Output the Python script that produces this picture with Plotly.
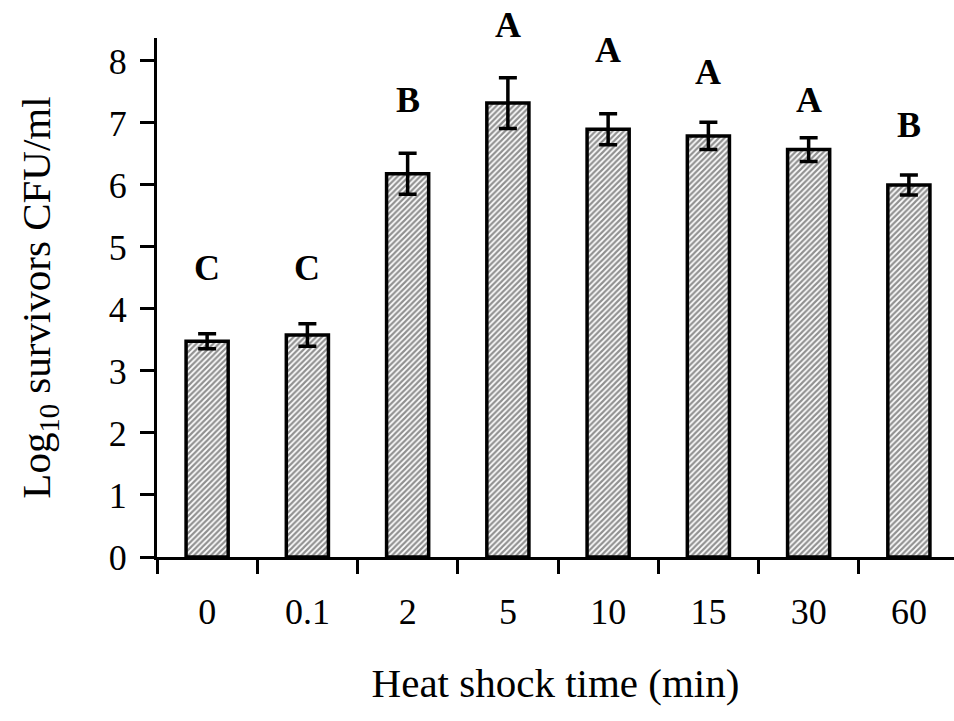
import plotly.graph_objects as go

# Heat shock exposure times (min) and survivor counts
times = ["0", "0.1", "2", "5", "10", "15", "30", "60"]
log_survivors = [3.48, 3.58, 6.18, 7.32, 6.90, 6.79, 6.57, 6.00]
std_err = [0.12, 0.18, 0.33, 0.41, 0.25, 0.22, 0.19, 0.16]
groups = ["C", "C", "B", "A", "A", "A", "A", "B"]
group_label_y = [4.66, 4.66, 7.37, 8.58, 8.18, 7.82, 7.37, 6.97]

Y_MAX = 8.37
SERIF = "Liberation Serif, Times New Roman, serif"

fig = go.Figure()
fig.add_trace(go.Bar(
    x=times,
    y=log_survivors,
    width=0.42,
    marker=dict(
        color="white",
        line=dict(color="black", width=3.5),
        pattern=dict(shape="/", fgcolor="#222222", bgcolor="white",
                     size=4, solidity=0.55),
    ),
    error_y=dict(type="data", array=std_err, color="black",
                 thickness=3.5, width=9),
))

# significance letters above each bar; paper coordinates so the tallest
# one can sit above the top of the value axis
for i, (g, gy) in enumerate(zip(groups, group_label_y)):
    fig.add_annotation(x=i, y=gy / Y_MAX, text=f"<b>{g}</b>", showarrow=False,
                       font=dict(family=SERIF, size=36, color="black"),
                       xref="x", yref="paper",
                       xanchor="center", yanchor="middle")

fig.update_layout(
    width=954, height=721,
    margin=dict(l=157, r=0, t=38, b=164),
    paper_bgcolor="white", plot_bgcolor="white",
    showlegend=False,
    font=dict(family=SERIF, color="black"),
)
fig.update_xaxes(
    type="category",
    range=[-0.5, 7.45],
    showline=True, linecolor="black", linewidth=3,
    ticks="outside", tickson="boundaries", ticklen=14, tickwidth=3,
    tickcolor="black",
    tickfont=dict(family=SERIF, size=36),
    ticklabelstandoff=21,
    showgrid=False, zeroline=False,
    title=dict(text="Heat shock time (min)",
               font=dict(family=SERIF, size=41), standoff=38),
)
fig.update_yaxes(
    range=[0, Y_MAX],
    tickvals=list(range(0, 9)),
    showline=True, linecolor="black", linewidth=3,
    ticks="outside", ticklen=14, tickwidth=3, tickcolor="black",
    tickfont=dict(family=SERIF, size=36),
    ticklabelstandoff=6,
    showgrid=False, zeroline=False,
    title=dict(text="Log<sub>10</sub> survivors CFU/ml",
               font=dict(family=SERIF, size=41), standoff=46),
)

fig.write_html("out.html")
